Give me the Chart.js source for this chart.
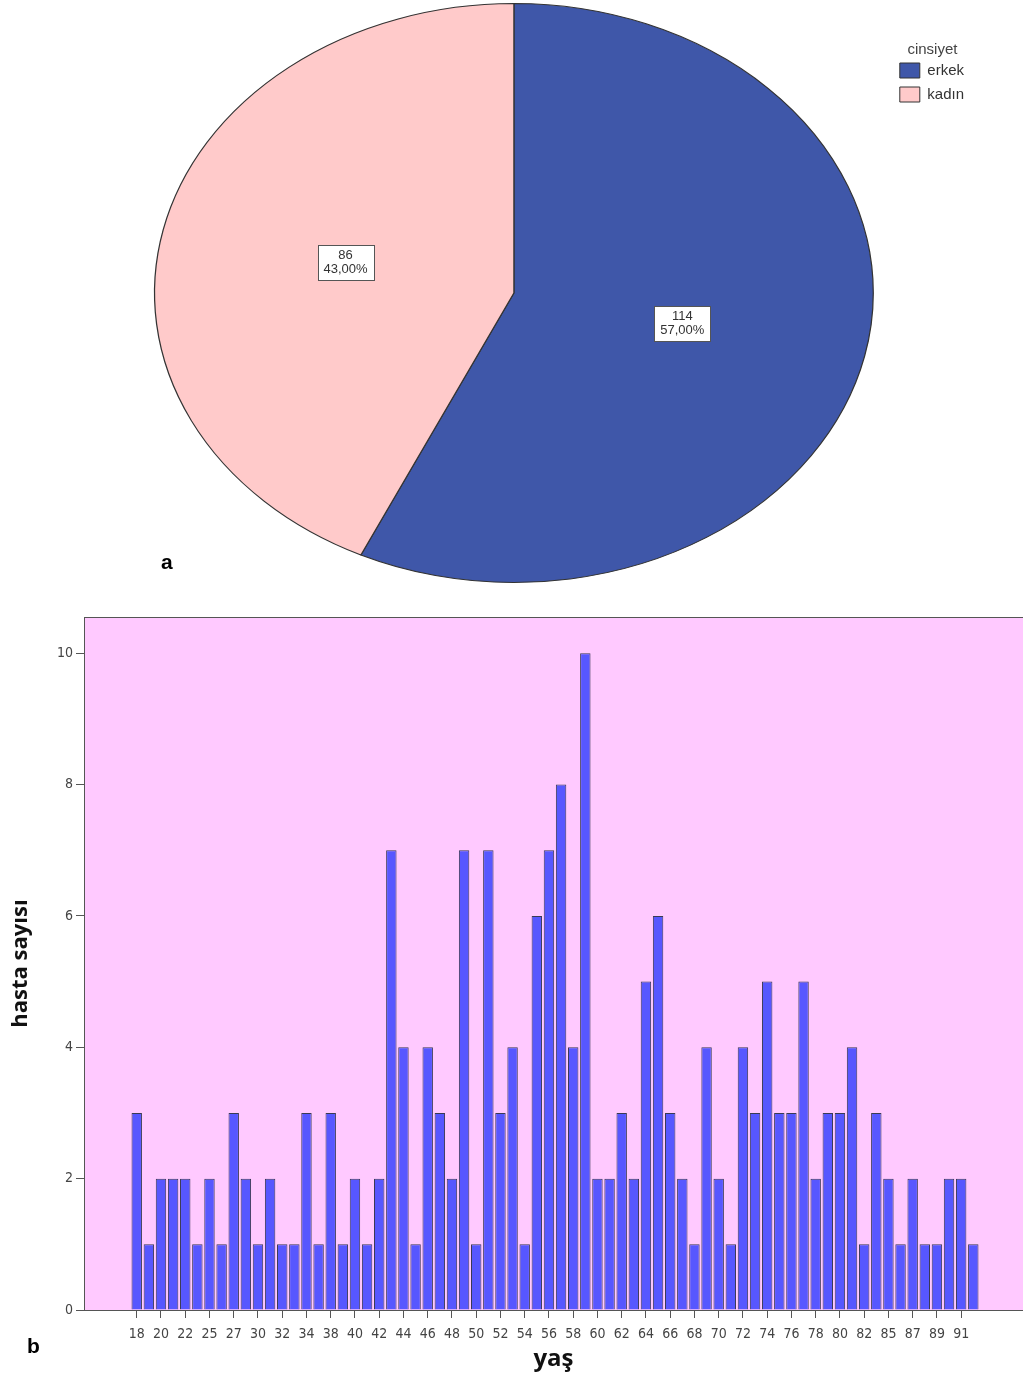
<!DOCTYPE html>
<html lang="tr">
<head>
<meta charset="UTF-8">
<title>cinsiyet ve yaş</title>
<script src="https://cdn.jsdelivr.net/npm/chart.js"></script>
<style>
    body { margin: 0; background: #fff; font-family: Arial, "Liberation Sans", sans-serif; }
    .wrap { position: relative; width: 1023px; height: 1374px; overflow: hidden; }
    #pieBox { position: absolute; left: 0; top: 0; width: 1023px; height: 600px; }
    #barBox { position: absolute; left: 0; top: 600px; width: 1023px; height: 774px; }
    .panel { position: absolute; font-weight: bold; font-size: 21px; color: #000; }
</style>
</head>
<body>
<div class="wrap">
    <div id="pieBox"><canvas id="pieChart"></canvas></div>
    <div id="barBox"><canvas id="barChart"></canvas></div>
    <div class="panel" style="left:161px; top:550px;">a</div>
    <div class="panel" style="left:27px; top:1334px;">b</div>
</div>
<script>
// cinsiyet
const genderLabels = ['erkek', 'kadın'];
const genderCounts = [114, 86];
const genderColors = ['#3F57A9', '#FFCACA'];

// yaş dağılımı
const ages = [18, 19, 20, 21, 22, 23, 25, 26, 27, 28, 30, 31, 32, 33, 34, 36, 38, 39, 40, 41,
    42, 43, 44, 45, 46, 47, 48, 49, 50, 51, 52, 53, 54, 55, 56, 57, 58, 59, 60, 61,
    62, 63, 64, 65, 66, 67, 68, 69, 70, 71, 72, 73, 74, 75, 76, 77, 78, 79, 80, 81,
    82, 83, 85, 86, 87, 88, 89, 90, 91, 92];
const patientCounts = [3, 1, 2, 2, 2, 1, 2, 1, 3, 2, 1, 2, 1, 1, 3, 1, 3, 1, 2, 1,
    2, 7, 4, 1, 4, 3, 2, 7, 1, 7, 3, 4, 1, 6, 7, 8, 4, 10, 2, 2,
    3, 2, 5, 6, 3, 2, 1, 4, 2, 1, 4, 3, 5, 3, 3, 5, 2, 3, 3, 4,
    1, 3, 2, 1, 2, 1, 1, 2, 2, 1];
const yTicks = [0, 2, 4, 6, 8, 10];

const stretchX = 360 / 290;

// pie is drawn as an ellipse like the original
const ellipsePlugin = {
    id: 'ellipse',
    beforeDatasetsDraw(chart) {
        const arc = chart.getDatasetMeta(0).data[0];
        const ctx = chart.ctx;
        ctx.save();
        ctx.translate(arc.x, arc.y);
        ctx.scale(stretchX, 1);
        ctx.translate(-arc.x, -arc.y);
    },
    afterDatasetsDraw(chart) {
        chart.ctx.restore();
    }
};

// white boxes with count and percent
const sliceLabelPlugin = {
    id: 'sliceLabels',
    afterDatasetsDraw(chart) {
        const ctx = chart.ctx;
        const data = chart.data.datasets[0].data;
        const total = data.reduce((s, v) => s + v, 0);
        chart.getDatasetMeta(0).data.forEach((arc, i) => {
            const mid = (arc.startAngle + arc.endAngle) / 2;
            const r = arc.outerRadius * 0.48;
            const x = arc.x + Math.cos(mid) * r * stretchX;
            const y = arc.y + Math.sin(mid) * r;
            const l1 = String(data[i]);
            const l2 = (data[i] / total * 100).toFixed(2).replace('.', ',') + '%';
            ctx.save();
            ctx.font = '13px Arial, "Liberation Sans", sans-serif';
            const w = Math.round(Math.max(ctx.measureText(l1).width, ctx.measureText(l2).width) + 12);
            const h = 35;
            const bx = Math.round(x - w / 2) + 0.5;
            const by = Math.round(y - h / 2) + 0.5;
            ctx.fillStyle = '#fff';
            ctx.fillRect(bx, by, w, h);
            ctx.strokeStyle = '#555';
            ctx.lineWidth = 1;
            ctx.strokeRect(bx, by, w, h);
            ctx.fillStyle = '#333';
            ctx.textAlign = 'center';
            ctx.textBaseline = 'middle';
            ctx.fillText(l1, x, y - 7);
            ctx.fillText(l2, x, y + 7);
            ctx.restore();
        });
    }
};

new Chart(document.getElementById('pieChart'), {
    type: 'pie',
    data: {
        labels: genderLabels,
        datasets: [{
            data: genderCounts,
            backgroundColor: genderColors,
            borderColor: '#333',
            borderWidth: 1
        }]
    },
    options: {
        responsive: true,
        maintainAspectRatio: false,
        animation: false,
        layout: { padding: { top: 3, bottom: 17, left: 137, right: 49 } },
        plugins: {
            legend: {
                position: 'right',
                align: 'start',
                title: {
                    display: true,
                    text: 'cinsiyet',
                    align: 'start',
                    color: '#444',
                    font: { size: 15, family: 'Arial, "Liberation Sans", sans-serif' },
                    padding: { top: 39, bottom: -6 }
                },
                labels: {
                    boxWidth: 20,
                    boxHeight: 15,
                    padding: 9,
                    color: '#333',
                    font: { size: 15, family: 'Arial, "Liberation Sans", sans-serif' }
                }
            },
            tooltip: { enabled: false }
        }
    },
    plugins: [ellipsePlugin, sliceLabelPlugin]
});

// pink plot area with frame
const plotBgPlugin = {
    id: 'plotBg',
    beforeDraw(chart) {
        const { ctx, chartArea: a } = chart;
        ctx.save();
        ctx.fillStyle = '#FFC9FF';
        ctx.fillRect(a.left, a.top, a.right - a.left, a.bottom - a.top);
        ctx.strokeStyle = '#555';
        ctx.lineWidth = 1;
        ctx.strokeRect(a.left + 0.5, a.top + 0.5, a.right - a.left, a.bottom - a.top);
        ctx.restore();
    }
};

const tickFont = { size: 14, family: '"Liberation Sans Narrow", "DejaVu Sans Condensed", Arial, sans-serif' };

new Chart(document.getElementById('barChart'), {
    type: 'bar',
    data: {
        datasets: [{
            data: patientCounts.map((v, i) => ({ x: i, y: v })),
            backgroundColor: '#5757FF',
            borderColor: '#3a3a55',
            borderWidth: 1,
            categoryPercentage: 1,
            barPercentage: 0.86
        }]
    },
    options: {
        responsive: true,
        maintainAspectRatio: false,
        animation: false,
        layout: { padding: { top: 17, left: 0, right: 0, bottom: 0 } },
        plugins: { legend: { display: false }, tooltip: { enabled: false } },
        scales: {
            x: {
                type: 'linear',
                offset: false,
                min: -4.35,
                max: 73.1,
                afterBuildTicks(scale) {
                    scale.ticks = ages.map((a, i) => ({ value: i })).filter((t, i) => i % 2 === 0);
                },
                afterFit(scale) { scale.height = 64; },
                grid: { offset: false, drawOnChartArea: false, drawTicks: true, tickLength: 8, color: '#555' },
                border: { color: '#555' },
                ticks: {
                    autoSkip: false,
                    maxRotation: 0,
                    padding: 8,
                    color: '#444',
                    font: tickFont,
                    callback: (value) => ages[value]
                },
                title: {
                    display: true,
                    text: 'yaş',
                    color: '#111',
                    font: { size: 24, weight: 'bold', family: '"Open Sans", Arial, sans-serif' },
                    padding: { top: 0, bottom: 0 }
                }
            },
            y: {
                min: 0,
                max: 10.55,
                afterBuildTicks(scale) {
                    scale.ticks = yTicks.map(v => ({ value: v }));
                },
                afterFit(scale) { scale.width = 84; },
                grid: { drawOnChartArea: false, drawTicks: true, tickLength: 8, color: '#555' },
                border: { color: '#555' },
                ticks: { padding: 3, color: '#444', font: tickFont },
                title: {
                    display: true,
                    text: 'hasta sayısı',
                    color: '#111',
                    font: { size: 22, weight: 'bold', family: '"Open Sans", Arial, sans-serif' },
                    padding: { top: 8, bottom: 8 }
                }
            }
        }
    },
    plugins: [plotBgPlugin]
});
</script>
</body>
</html>
